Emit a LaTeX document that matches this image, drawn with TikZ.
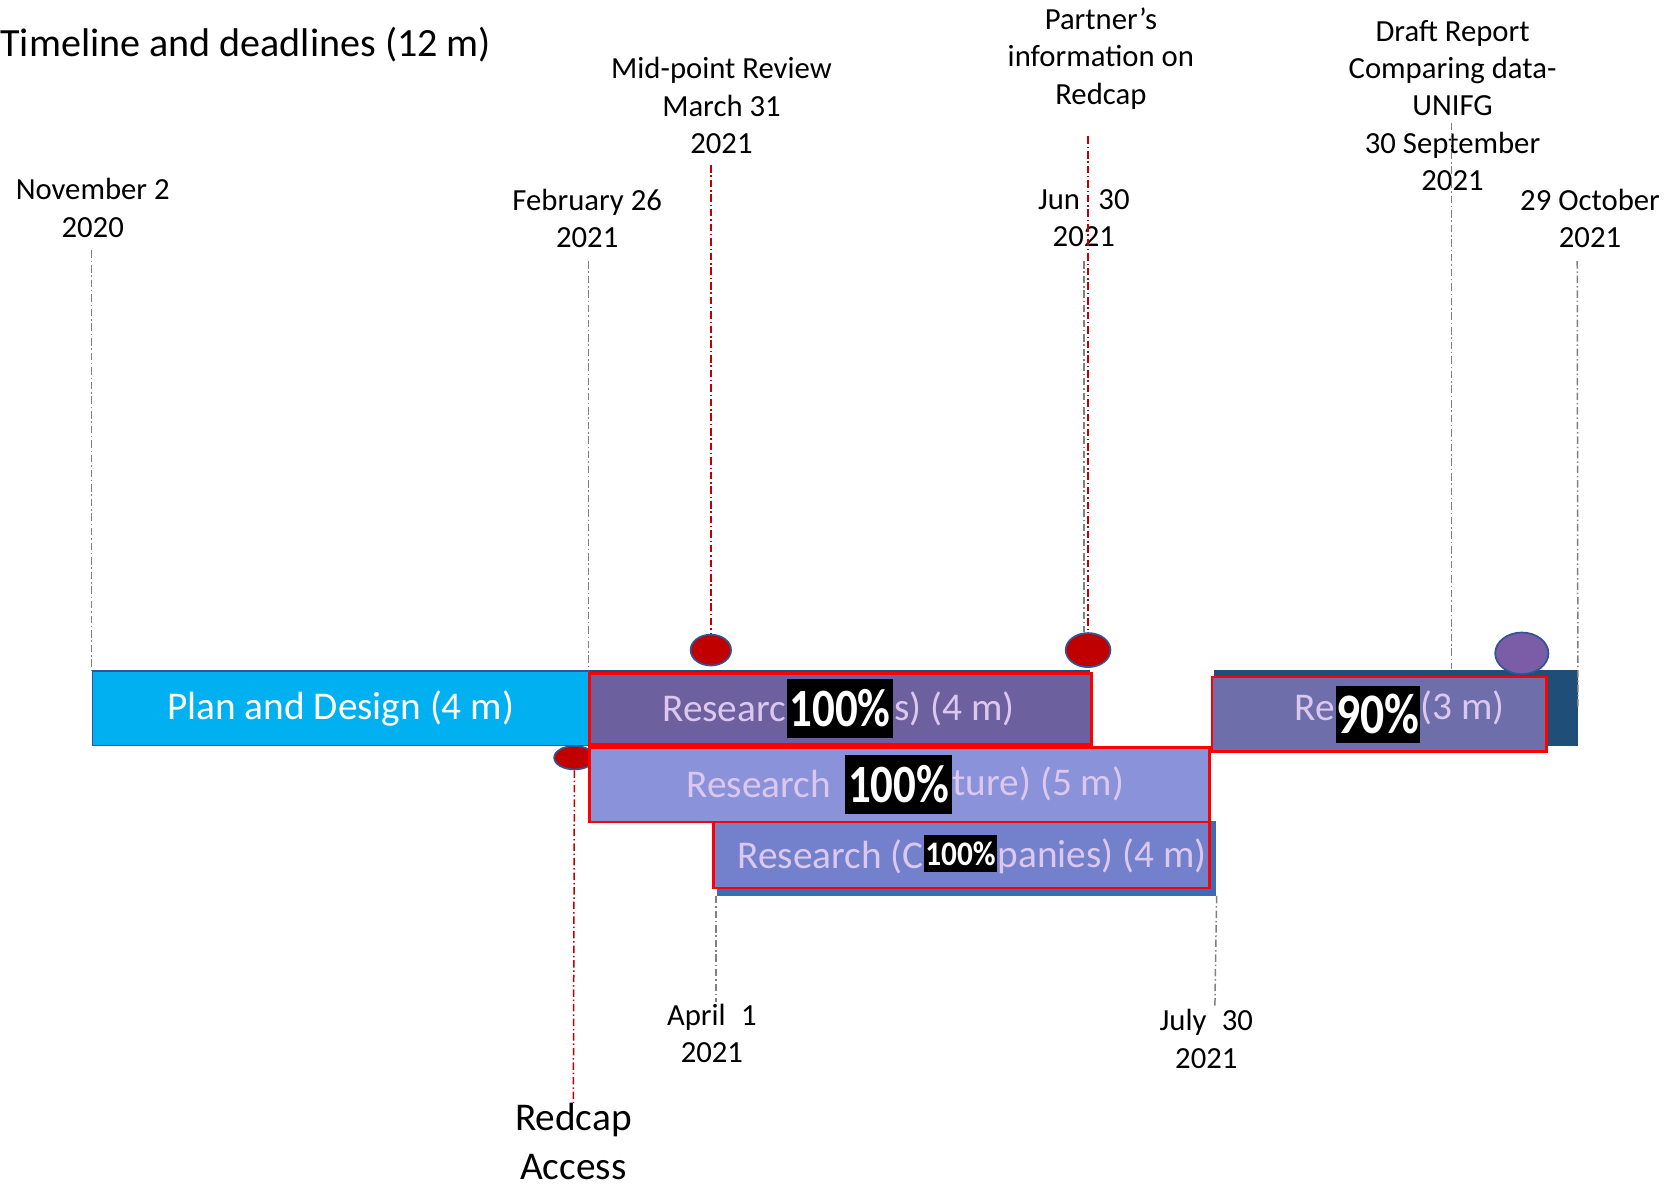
\documentclass[tikz,border=0pt]{standalone}
\usepackage{fontspec}
\setmainfont{Carlito}
\usepackage{tikz}
\usetikzlibrary{shapes.geometric,positioning}

\definecolor{plancyan}{HTML}{00B0F0}
\definecolor{barborder}{HTML}{2F5597}
\definecolor{darkblue}{HTML}{1F4E79}
\definecolor{shadowblue}{HTML}{3A6DB3}
\definecolor{purpleA}{HTML}{6D609F}
\definecolor{purpleB}{HTML}{8A93DA}
\definecolor{purpleC}{HTML}{7381CC}
\definecolor{purpleD}{HTML}{6E6EAB}
\definecolor{lavender}{HTML}{DCC8EE}
\definecolor{framered}{HTML}{FF0000}
\definecolor{dotred}{HTML}{C00000}
\definecolor{dotpurple}{HTML}{7B5CA6}
\definecolor{linegrey}{HTML}{808080}
\definecolor{linered}{HTML}{C00000}

\newcommand{\tallpct}[1]{\scalebox{1}[1.2]{#1}}

\tikzset{
  taskbar/.style={rectangle, anchor=north west, inner sep=0pt, font=\fontsize{21}{25}\selectfont},
  redframe/.style={draw=framered, line width=1.5pt},
  pctbox/.style={rectangle, anchor=north west, fill=black, text=white, inner sep=0pt, font=\bfseries\fontsize{24}{28}\selectfont},
  milestone/.style={ellipse, draw=barborder, line width=0.9pt, fill=dotred, inner sep=0pt},
  greyline/.style={draw=linegrey, line width=0.8pt, dash pattern=on 4pt off 1.5pt on 0.8pt off 1.5pt},
  redline/.style={greyline, draw=linered},
  datelabel/.style={align=center, inner sep=0pt, font=\fontsize{16.4}{19.9}\selectfont},
  bartext/.style={text=lavender, inner sep=0pt, font=\fontsize{21}{25}\selectfont}
}

\begin{document}
\begin{tikzpicture}[x=0.02cm, y=-0.02cm]
\useasboundingbox (0,0) rectangle (1568,1113);

\coordinate (novtop) at (86,235);
\coordinate (febtop) at (552,245);
\coordinate (midtop) at (667,155);
\coordinate (partnertop) at (1021,128);
\coordinate (juntop) at (1017,245);
\coordinate (drafttop) at (1362,115);
\coordinate (octtop) at (1480,245);
\coordinate (aprend) at (672,940);
\coordinate (julend) at (1140,945);

\node[taskbar, fill=darkblue, minimum width=9.42cm, minimum height=1.38cm] (resback) at (552,628) {};
\node[taskbar, fill=darkblue, minimum width=6.82cm, minimum height=1.44cm] (revback) at (1139,628) {};
\node[taskbar, fill=shadowblue, minimum width=9.38cm, minimum height=1.4cm] (compback) at (672,770) {};

\node[milestone, minimum width=0.76cm, minimum height=0.58cm] (dotmid) at (667,610) {};
\node[milestone, minimum width=0.84cm, minimum height=0.64cm] (dotjun) at (1021,610) {};
\node[milestone, minimum width=0.76cm, minimum height=0.44cm] (dotfeb) at (539,711) {};
\node[milestone, fill=dotpurple, minimum width=1.0cm, minimum height=0.78cm] (dotoct) at (1428,613) {};

\node[taskbar, fill=plancyan, draw=barborder, line width=0.8pt, text=white, minimum width=9.32cm, minimum height=1.4cm] (plan) at (86,629) {Plan and Design (4 m)};
\node[taskbar, redframe, fill=purpleA, minimum width=9.42cm, minimum height=1.32cm] (partners) at (552,631) {};
\node[taskbar, redframe, fill=purpleB, minimum width=11.64cm, minimum height=1.4cm] (literature) at (552,700) {};
\node[taskbar, redframe, fill=purpleC, minimum width=9.32cm, minimum height=1.24cm] (companies) at (668,770) {};
\node[taskbar, redframe, fill=purpleD, minimum width=6.28cm, minimum height=1.4cm] (report) at (1136,634) {};

\node[pctbox, minimum width=2cm, minimum height=1.1cm] (pctA) at (738,637) {\tallpct{100\%}};
\node[pctbox, minimum width=2cm, minimum height=1.1cm] (pctB) at (793,708) {\tallpct{100\%}};
\node[pctbox, minimum width=1.36cm, minimum height=0.7cm, font=\bfseries\fontsize{16.7}{20}\selectfont] (pctC) at (867,783) {\scalebox{1}[1.1]{100\%}};
\node[pctbox, minimum width=1.58cm, minimum height=1.08cm, font=\bfseries\fontsize{25.5}{30}\selectfont] (pctD) at (1253,643) {\tallpct{90\%}};

\node[bartext, anchor=east] (partnersL) at (pctA.west) {Researc};
\node[bartext, anchor=west] (partnersR) at (pctA.east) {s) (4 m)};
\node[bartext, anchor=east] (literatureL) at ([xshift=-0.26cm]pctB.west) {Research};
\node[bartext, anchor=west] (literatureR) at (pctB.east) {ture) (5 m)};
\node[bartext, anchor=east] (companiesL) at ([yshift=-0.06cm]pctC.west) {Research (C};
\node[bartext, anchor=west] (companiesR) at ([yshift=-0.06cm]pctC.east) {panies) (4 m)};
\node[bartext, anchor=east] (reportL) at ([yshift=0.12cm]pctD.west) {Re};
\node[bartext, anchor=west] (reportR) at ([yshift=0.12cm]pctD.east) {(3 m)};

\node[anchor=west, inner sep=0pt, font=\fontsize{21.4}{25}\selectfont] (title) at (0,42) {Timeline and deadlines (12 m)};
\node[datelabel] (nov) at (87,195) {November 2\\2020};
\node[datelabel] (feb) at (551,205) {February 26\\2021};
\node[datelabel] (mid) at (677,99) {Mid-point Review\\March 31\\2021};
\node[datelabel] (partner) at (1033,55) {Partner’s\\information on\\Redcap};
\node[datelabel] (jun) at (1017,205) {Jun\hspace{0.6em}30\\2021};
\node[datelabel] (draft) at (1363,99) {Draft Report\\Comparing data-\\UNIFG\\30 September\\2021};
\node[datelabel] (oct) at (1492,205) {29 October\\2021};
\node[datelabel] (apr) at (668,970) {April\hspace{0.5em}1\\2021};
\node[datelabel] (jul) at (1132,975) {July\hspace{0.5em}30\\2021};
\node[datelabel, font=\fontsize{21}{26}\selectfont] (redcap) at (538,1071) {Redcap\\Access};

\draw[greyline] (novtop) -- (plan.north west);
\draw[greyline] (febtop) -- (resback.north west);
\draw[redline] (midtop) -- (dotmid.north);
\draw[redline] (partnertop) -- (dotjun.north);
\draw[greyline] (juntop) -- (juntop |- dotjun.north);
\draw[greyline] (drafttop) -- (drafttop |- revback.north);
\draw[greyline] (octtop) -- (revback.east);
\draw[greyline] (compback.south west) -- (aprend);
\draw[greyline] (compback.south east) -- (julend);
\draw[redline] (dotfeb.south) -- (redcap.north);
\end{tikzpicture}
\end{document}
